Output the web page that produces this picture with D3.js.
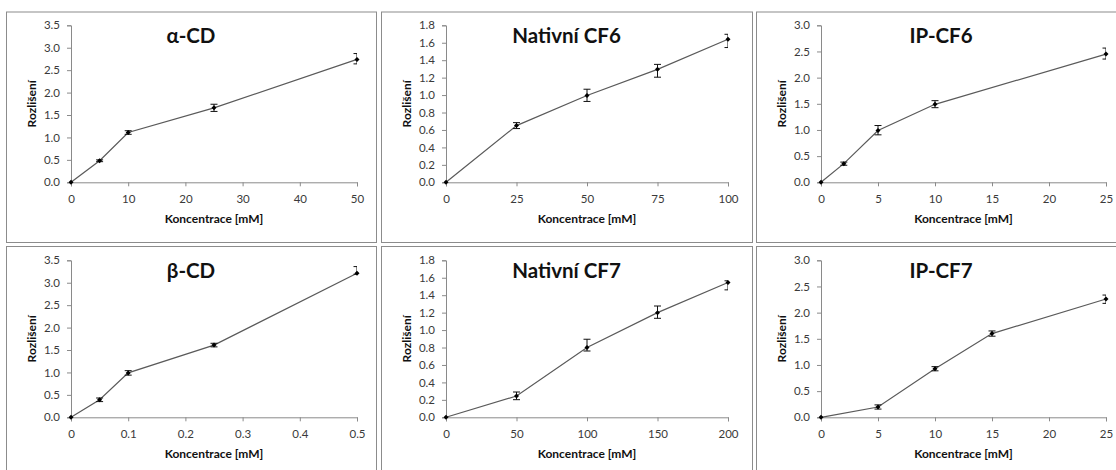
<!DOCTYPE html>
<html>
<head>
<meta charset="utf-8">
<script src="https://cdn.jsdelivr.net/npm/d3@7"></script>
<style>
  html, body { margin: 0; padding: 0; background: #fff; }
  svg { display: block; }
  .tick text { font-family: Lato, "Open Sans", sans-serif; font-size: 11.5px; fill: #3a3a3a; }
  .axis-title { font-family: Lato, "Open Sans", sans-serif; font-size: 12px; font-weight: bold; fill: #111; }
  .chart-title { font-family: Lato, "Open Sans", sans-serif; font-size: 20.5px; font-weight: bold; fill: #111; }
</style>
</head>
<body>
<svg id="chart" width="1116" height="470"></svg>
<script>
// Panel titles
const titles = ["α-CD", "Nativní CF6", "IP-CF6", "β-CD", "Nativní CF7", "IP-CF7"];

// α-CD
const xAlpha = [0, 5, 10, 25, 50];
const yAlpha = [0, 0.48, 1.11, 1.66, 2.74];
const loAlpha = [0, 0.02, 0.04, 0.08, 0.10];
const hiAlpha = [0, 0.02, 0.04, 0.08, 0.13];

// Nativní CF6
const xCF6 = [0, 25, 50, 75, 100];
const yCF6 = [0, 0.65, 0.995, 1.295, 1.64];
const loCF6 = [0, 0.034, 0.068, 0.09, 0.095];
const hiCF6 = [0, 0.034, 0.072, 0.057, 0.057];

// IP-CF6
const xIPCF6 = [0, 2, 5, 10, 25];
const yIPCF6 = [0, 0.356, 0.99, 1.49, 2.45];
const loIPCF6 = [0, 0.03, 0.083, 0.064, 0.095];
const hiIPCF6 = [0, 0.03, 0.095, 0.07, 0.115];

// β-CD
const xBeta = [0, 0.05, 0.1, 0.25, 0.5];
const yBeta = [0, 0.39, 0.99, 1.61, 3.21];
const loBeta = [0, 0.04, 0.05, 0.04, 0.02];
const hiBeta = [0, 0.04, 0.05, 0.04, 0.15];

// Nativní CF7
const xCF7 = [0, 50, 100, 150, 200];
const yCF7 = [0, 0.244, 0.80, 1.20, 1.545];
const loCF7 = [0, 0.042, 0.04, 0.065, 0.084];
const hiCF7 = [0, 0.046, 0.095, 0.076, 0.02];

// IP-CF7
const xIPCF7 = [0, 5, 10, 15, 25];
const yIPCF7 = [0, 0.197, 0.928, 1.60, 2.26];
const loIPCF7 = [0, 0.04, 0.04, 0.05, 0.083];
const hiIPCF7 = [0, 0.04, 0.04, 0.05, 0.076];

// Axis ticks
const xTicksAlpha = [0, 10, 20, 30, 40, 50];
const xTicksCF6 = [0, 25, 50, 75, 100];
const xTicksIP = [0, 5, 10, 15, 20, 25];
const xTicksBeta = [0, 0.1, 0.2, 0.3, 0.4, 0.5];
const xTicksCF7 = [0, 50, 100, 150, 200];
const yTicks35 = [0, 0.5, 1.0, 1.5, 2.0, 2.5, 3.0, 3.5];
const yTicks18 = [0, 0.2, 0.4, 0.6, 0.8, 1.0, 1.2, 1.4, 1.6, 1.8];
const yTicks30 = [0, 0.5, 1.0, 1.5, 2.0, 2.5, 3.0];

const xLabel = "Koncentrace [mM]";
const yLabel = "Rozlišení";

const panels = [
  { title: titles[0], x: xAlpha, y: yAlpha, lo: loAlpha, hi: hiAlpha, xt: xTicksAlpha, yt: yTicks35 },
  { title: titles[1], x: xCF6, y: yCF6, lo: loCF6, hi: hiCF6, xt: xTicksCF6, yt: yTicks18 },
  { title: titles[2], x: xIPCF6, y: yIPCF6, lo: loIPCF6, hi: hiIPCF6, xt: xTicksIP, yt: yTicks30 },
  { title: titles[3], x: xBeta, y: yBeta, lo: loBeta, hi: hiBeta, xt: xTicksBeta, yt: yTicks35 },
  { title: titles[4], x: xCF7, y: yCF7, lo: loCF7, hi: hiCF7, xt: xTicksCF7, yt: yTicks18 },
  { title: titles[5], x: xIPCF7, y: yIPCF7, lo: loIPCF7, hi: hiIPCF7, xt: xTicksIP, yt: yTicks30 }
];

// Layout of the 3x2 grid
const boxLeft = [6, 381, 756];
const boxRight = [376, 752, 1126];
const boxTop = [11.5, 246];
const boxBottom = [242, 480];
const plotLeft = [71, 446, 821];
const plotRight = [357, 728, 1106];
const plotTop = [25.3, 260.3];
const plotBottom = [182.3, 417.3];

const svg = d3.select("#chart");
const axisColor = "#8a8a8a";

panels.forEach((p, i) => {
  const col = i % 3, row = Math.floor(i / 3);

  svg.append("rect")
    .attr("x", boxLeft[col] + 0.5).attr("y", boxTop[row] + 0.5)
    .attr("width", boxRight[col] - boxLeft[col]).attr("height", boxBottom[row] - boxTop[row])
    .attr("fill", "#fff").attr("stroke", "#8c8c8c").attr("stroke-width", 1);

  const xs = d3.scaleLinear().domain([p.xt[0], p.xt[p.xt.length - 1]]).range([plotLeft[col], plotRight[col]]);
  const ys = d3.scaleLinear().domain([p.yt[0], p.yt[p.yt.length - 1]]).range([plotBottom[row], plotTop[row]]);

  const g = svg.append("g");

  // axes
  const yAxis = g.append("g").attr("transform", `translate(${xs.range()[0]},0)`)
    .call(d3.axisLeft(ys).tickValues(p.yt).tickFormat(d3.format(".1f")).tickSize(4).tickPadding(7));
  const xAxis = g.append("g").attr("transform", `translate(0,${ys.range()[0]})`)
    .call(d3.axisBottom(xs).tickValues(p.xt).tickFormat(d => String(+d.toFixed(2))).tickSize(4).tickPadding(6));
  [xAxis, yAxis].forEach(a => {
    a.select(".domain").attr("stroke", axisColor);
    a.selectAll(".tick line").attr("stroke", axisColor);
  });
  xAxis.selectAll(".tick text").attr("dy", "0.9em");

  // clip for error bars at the plot area edges
  const clipId = "clip" + i;
  svg.append("clipPath").attr("id", clipId).append("rect")
    .attr("x", xs.range()[0] - 8).attr("y", ys.range()[1] - 8)
    .attr("width", xs.range()[1] - xs.range()[0] + 8).attr("height", ys.range()[0] - ys.range()[1] + 16);

  const pts = p.x.map((xv, k) => ({ x: xv, y: p.y[k], lo: p.lo[k], hi: p.hi[k] }));

  // connecting line
  g.append("path").datum(pts)
    .attr("fill", "none").attr("stroke", "#5a5a5a").attr("stroke-width", 1.2)
    .attr("d", d3.line().x(d => xs(d.x)).y(d => ys(d.y)));

  // error bars
  const eb = g.append("g").attr("clip-path", `url(#${clipId})`)
    .selectAll("g").data(pts.filter(d => d.lo > 0 || d.hi > 0)).join("g");
  const cap = 3.5;
  eb.append("line")
    .attr("x1", d => xs(d.x)).attr("x2", d => xs(d.x))
    .attr("y1", d => ys(d.y + d.hi)).attr("y2", d => ys(d.y - d.lo))
    .attr("stroke", "#111").attr("stroke-width", 1);
  eb.append("line")
    .attr("x1", d => xs(d.x) - cap).attr("x2", d => xs(d.x) + cap)
    .attr("y1", d => ys(d.y + d.hi)).attr("y2", d => ys(d.y + d.hi))
    .attr("stroke", "#111").attr("stroke-width", 1);
  eb.append("line")
    .attr("x1", d => xs(d.x) - cap).attr("x2", d => xs(d.x) + cap)
    .attr("y1", d => ys(d.y - d.lo)).attr("y2", d => ys(d.y - d.lo))
    .attr("stroke", "#111").attr("stroke-width", 1);

  // diamond markers
  g.selectAll(".mk").data(pts).join("path").attr("class", "mk")
    .attr("transform", d => `translate(${xs(d.x)},${ys(d.y)})`)
    .attr("d", d3.symbol(d3.symbolDiamond2, 16)())
    .attr("fill", "#000");

  // titles
  g.append("text").attr("class", "chart-title")
    .attr("x", (boxLeft[col] + boxRight[col]) / 2).attr("y", boxTop[row] + 31.5)
    .attr("text-anchor", "middle").text(p.title);
  g.append("text").attr("class", "axis-title")
    .attr("x", (xs.range()[0] + xs.range()[1]) / 2).attr("y", ys.range()[0] + 40.5)
    .attr("text-anchor", "middle").text(xLabel);
  g.append("text").attr("class", "axis-title")
    .attr("transform", `translate(${boxLeft[col] + 26},${(ys.range()[0] + ys.range()[1]) / 2}) rotate(-90)`)
    .attr("text-anchor", "middle").attr("dy", "0.35em").text(yLabel);
});
</script>
</body>
</html>
